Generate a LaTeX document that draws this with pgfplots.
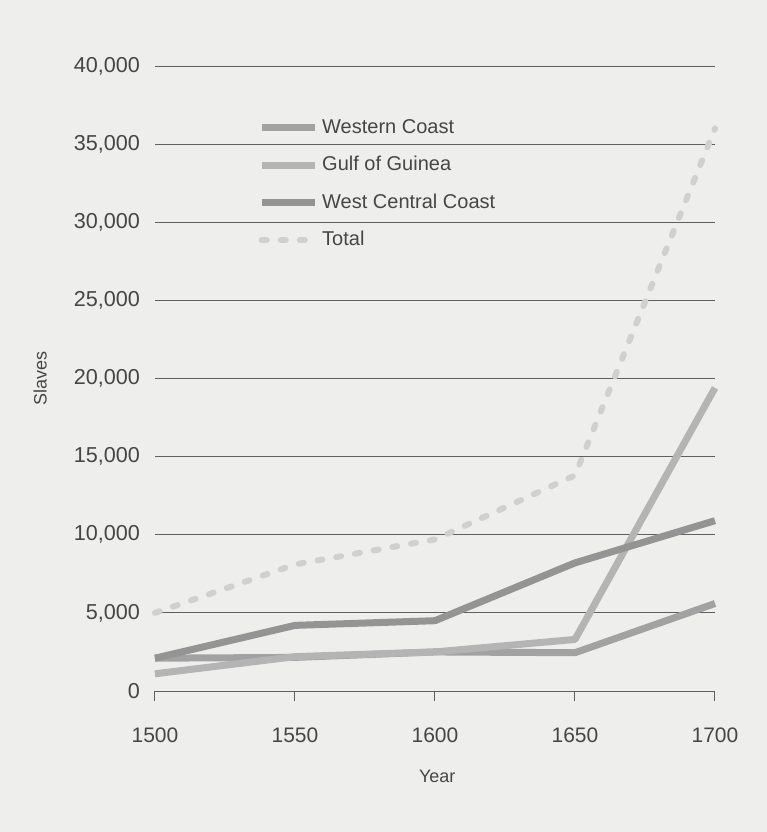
\documentclass[border=0pt]{standalone}
\usepackage{pgfplots}
\pgfplotsset{compat=1.18}
\usepackage{fontspec}
\setmainfont{Liberation Sans}
\definecolor{bg}{RGB}{238,238,236}
\definecolor{wc}{RGB}{162,162,162}
\definecolor{gg}{RGB}{180,180,180}
\definecolor{wcc}{RGB}{148,148,148}
\definecolor{tot}{RGB}{208,208,208}
\definecolor{grd}{RGB}{95,95,95}
\definecolor{txt}{RGB}{70,70,70}
\begin{document}
\begin{tikzpicture}
\fill[bg] (-77.5pt,-70.5pt) rectangle (306pt,345.5pt);
\path[use as bounding box] (-77.5pt,-70.5pt) rectangle (306pt,345.5pt);
\begin{axis}[
  at={(0,0)}, anchor=south west,
  width=280pt, height=312.5pt, scale only axis,
  xmin=1500, xmax=1700, ymin=0, ymax=40000,
  xtick={1500,1550,1600,1650,1700},
  ytick={0,5000,10000,15000,20000,25000,30000,35000,40000},
  scaled ticks=false,
  axis x line*=bottom, axis y line*=left,
  x axis line style={-, grd, line width=0.5pt},
  y axis line style={draw=none},
  ymajorgrids, major grid style={grd, line width=0.5pt},
  ytick style={draw=none},
  xtick align=outside, major tick length=5pt,
  xtick style={grd, line width=0.5pt},
  /pgf/number format/assume math mode=true,
  yticklabel={\pgfmathprintnumber[fixed, precision=0, 1000 sep={,}, assume math mode=true]{\tick}},
  xticklabel={\pgfmathprintnumber[fixed, precision=0, 1000 sep={}, assume math mode=true]{\tick}},
  xticklabel style={font=\fontsize{10.5}{12}\selectfont, text=txt, yshift=-10pt},
  yticklabel style={font=\fontsize{10.8}{12}\selectfont, text=txt, xshift=-4pt},
  xlabel={Year}, ylabel={Slaves},
  xlabel style={font=\fontsize{9}{11}\selectfont, text=txt, at={(axis description cs:0.504,-0.136)}, anchor=center},
  ylabel style={font=\fontsize{9}{11}\selectfont, text=txt, at={(axis description cs:-0.205,0.5)}, anchor=center, rotate=0},
  clip=false,
  legend style={draw=none, fill=none, at={(0.173,0.928)}, anchor=north west,
    font=\fontsize{10}{12}\selectfont, text=txt, row sep=6pt,
    /tikz/every even column/.append style={column sep=0pt}},
  legend cell align=left,
  legend image code/.code={\draw[#1] (0cm,0cm) -- (0.93cm,0cm);},
]
\addplot[wc, line width=3.5pt, line join=round] coordinates {(1500,2100)(1550,2150)(1600,2500)(1650,2450)(1700,5600)};
\addlegendentry{Western Coast}
\addplot[gg, line width=3.5pt, line join=round] coordinates {(1500,1100)(1550,2200)(1600,2500)(1650,3300)(1700,19400)};
\addlegendentry{Gulf of Guinea}
\addplot[wcc, line width=3.5pt, line join=round] coordinates {(1500,2100)(1550,4200)(1600,4500)(1650,8200)(1700,10900)};
\addlegendentry{West Central Coast}
\addplot[tot, line width=3pt, line cap=round, dash pattern=on 2.5pt off 7pt] coordinates {(1500,5000)(1550,8100)(1600,9700)(1650,13800)(1700,36000)};
\addlegendentry{Total}
\end{axis}
\end{tikzpicture}
\end{document}
